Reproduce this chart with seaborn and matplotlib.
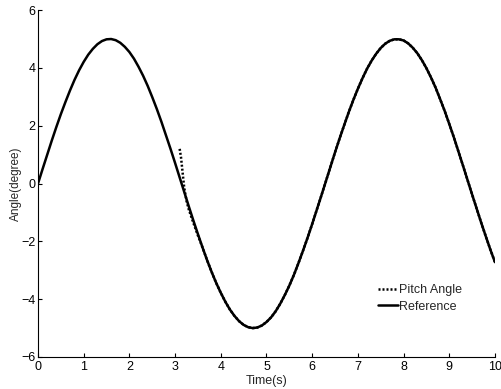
import numpy as np
import pandas as pd
import matplotlib
matplotlib.use("Agg")
import matplotlib.pyplot as plt
import seaborn as sns

# Reference curve
ref_time = [round(0.1 * i, 1) for i in range(101)]
ref_angle = [0.00, 0.50, 0.99, 1.48, 1.95, 2.40, 2.82, 3.22, 3.59, 3.92,
             4.21, 4.46, 4.66, 4.82, 4.93, 4.99, 5.00, 4.96, 4.87, 4.73,
             4.55, 4.32, 4.04, 3.73, 3.38, 2.99, 2.58, 2.14, 1.67, 1.20,
             0.71, 0.21, -0.29, -0.79, -1.28, -1.75, -2.21, -2.65, -3.06, -3.44,
             -3.78, -4.09, -4.36, -4.58, -4.76, -4.89, -4.97, -5.00, -4.98, -4.91,
             -4.79, -4.63, -4.42, -4.16, -3.86, -3.53, -3.16, -2.75, -2.32, -1.87,
             -1.40, -0.91, -0.42, 0.08, 0.58, 1.08, 1.56, 2.02, 2.47, 2.89,
             3.28, 3.64, 3.97, 4.25, 4.49, 4.69, 4.84, 4.94, 4.99, 4.99,
             4.95, 4.85, 4.70, 4.51, 4.27, 3.99, 3.67, 3.32, 2.92, 2.51,
             2.06, 1.60, 1.11, 0.62, 0.12, -0.38, -0.87, -1.36, -1.83, -2.29,
             -2.72]

# Pitch angle (starts near t=3.1 above the reference, then converges onto it)
pitch_time = [3.1, 3.13, 3.16, 3.2, 3.25, 3.3, 3.4, 3.5] + [round(0.1 * i, 1) for i in range(36, 101)]
pitch_angle = [1.2, 0.9, 0.45, -0.15, -0.6, -0.9, -1.36, -1.8,
               -2.21, -2.65, -3.06, -3.44,
               -3.78, -4.09, -4.36, -4.58, -4.76, -4.89, -4.97, -5.00, -4.98, -4.91,
               -4.79, -4.63, -4.42, -4.16, -3.86, -3.53, -3.16, -2.75, -2.32, -1.87,
               -1.40, -0.91, -0.42, 0.08, 0.58, 1.08, 1.56, 2.02, 2.47, 2.89,
               3.28, 3.64, 3.97, 4.25, 4.49, 4.69, 4.84, 4.94, 4.99, 4.99,
               4.95, 4.85, 4.70, 4.51, 4.27, 3.99, 3.67, 3.32, 2.92, 2.51,
               2.06, 1.60, 1.11, 0.62, 0.12, -0.38, -0.87, -1.36, -1.83, -2.29,
               -2.72]

sns.set_style("ticks")
plt.rcParams['font.family'] = ['Liberation Sans', 'DejaVu Sans']
plt.rcParams['xtick.direction'] = 'in'
plt.rcParams['ytick.direction'] = 'in'

fig = plt.figure(figsize=(5.02, 3.89), dpi=100)
ax = fig.add_axes([0.0757, 0.0823, 0.9103, 0.8917])

df_ref = pd.DataFrame({"t": ref_time, "a": ref_angle})
df_pitch = pd.DataFrame({"t": pitch_time, "a": pitch_angle})

sns.lineplot(data=df_pitch, x="t", y="a", ax=ax, color="black", lw=1.8,
             linestyle=(0, (0.8, 0.8)), label="Pitch Angle", sort=False, zorder=3)
sns.lineplot(data=df_ref, x="t", y="a", ax=ax, color="black", lw=1.8,
             label="Reference", sort=False, zorder=2)

ax.set_xlim(0, 10)
ax.set_ylim(-6, 6)
ax.set_xticks(range(0, 11))
ax.set_yticks([-6, -4, -2, 0, 2, 4, 6])
ax.tick_params(axis='both', labelsize=9, length=3, width=0.8, colors='black')
ax.tick_params(axis='x', pad=3)
ax.tick_params(axis='y', pad=2)
for s in ['top', 'right']:
    ax.spines[s].set_visible(False)
for s in ['left', 'bottom']:
    ax.spines[s].set_linewidth(0.8)
    ax.spines[s].set_color('black')

ax.set_xlabel("Time(s)", fontsize=9, labelpad=1)
ax.set_ylabel("Angle(degree)", fontsize=8.5, labelpad=-1)

leg = ax.legend(loc="upper left", bbox_to_anchor=(0.744, 0.21), frameon=False,
                fontsize=9, handlelength=1.6, handletextpad=0.1, labelspacing=0.35,
                borderaxespad=0, borderpad=0)

fig.savefig("out.png", dpi=100)
